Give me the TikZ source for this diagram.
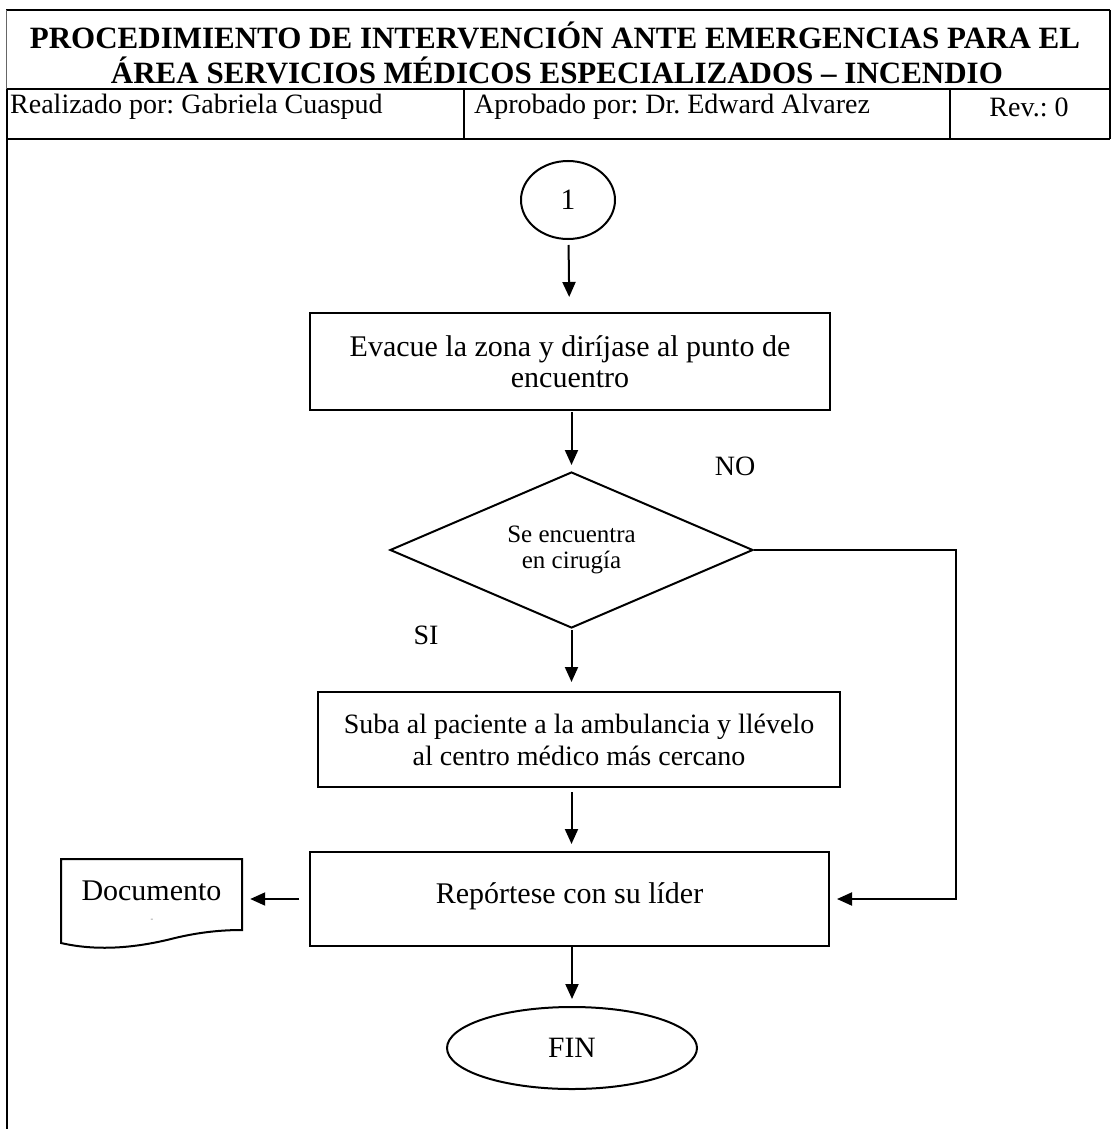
\documentclass[tikz,border=0pt]{standalone}
\usepackage{fontspec}
\setmainfont{Liberation Serif}
\usetikzlibrary{arrows.meta,shapes.geometric}
\frenchspacing
\begin{document}
\begin{tikzpicture}[x=1pt,y=-1pt,
  frame/.style={line width=2pt},
  arr/.style={line width=2pt,-{Triangle[length=15pt,width=13pt]}},
  stepbox/.style={draw,line width=2pt,rectangle,inner sep=0pt,align=center,
    font=\fontsize{30}{31}\selectfont},
  oval/.style={draw,line width=2pt,ellipse,inner sep=0pt,
    font=\fontsize{29.5}{31}\selectfont},
  lbl/.style={font=\fontsize{28}{30}\selectfont,inner sep=0pt},
  titletext/.style={font=\fontsize{31}{32}\selectfont\bfseries,inner sep=0pt}
]
\useasboundingbox (0,0) rectangle (1112,1129);

% header table
\draw[frame] (6,10) -- (1110,10);
\draw[line width=1.6pt] (6,89) -- (1110,89);
\draw[line width=1.6pt] (6,139) -- (1110,139);
\draw[line width=1pt,black!60] (6,10) -- (6,89);
\draw[frame] (7,89) -- (7,1129);
\draw[line width=1.2pt] (1110,10) -- (1110,139);
\draw[line width=1.2pt] (464,89) -- (464,139);
\draw[line width=1.2pt] (950,89) -- (950,139);

\node[titletext] (t1) at (555,35) {PROCEDIMIENTO DE INTERVENCIÓN ANTE EMERGENCIAS PARA EL};
\node[titletext] (t2) at (557,70) {ÁREA SERVICIOS MÉDICOS ESPECIALIZADOS – INCENDIO};

\node[lbl,anchor=west] (realiz) at (10,107) {Realizado por: Gabriela Cuaspud};
\node[lbl,anchor=west] (aprob) at (474,107) {Aprobado por: Dr. Edward Alvarez};
\node[lbl] (rev) at (1029,107) {Rev.: 0};

% flowchart
\node[oval,minimum width=94pt,minimum height=78pt] (c1) at (568,200) {1};
\node[stepbox,minimum width=520pt,minimum height=97pt] (evac) at (570,361.5)
  {Evacue la zona y diríjase al punto de\\encuentro};
\node[draw,line width=2pt,diamond,aspect=2.3,inner sep=0pt,
  minimum width=363pt,minimum height=156pt,align=center,
  font=\fontsize{25}{26}\selectfont] (dec) at (571.5,550) {Se encuentra\\en cirugía};
\node[stepbox,minimum width=522pt,minimum height=95pt,
  font=\fontsize{28}{32}\selectfont] (suba) at (579,739.5)
  {Suba al paciente a la ambulancia y llévelo\\al centro médico más cercano};
\node[stepbox,minimum width=519pt,minimum height=94pt] (rep) at (569.5,899)
  {\raisebox{12pt}{Repórtese con su líder}};
\node[oval,minimum width=250pt,minimum height=82pt] (fin) at (572,1048) {FIN};

% document symbol with wavy lower edge
\node[inner sep=0pt,minimum width=181pt,minimum height=71pt,
  font=\fontsize{30}{31}\selectfont] (doc) at (151.5,894.5)
  {\raisebox{7pt}{Documento}};
\draw[line width=2pt,line join=miter]
  (242,930) -- (242,859) -- (61,859) -- (61,943)
  .. controls (100,952) and (140,947) .. (175,938)
  .. controls (200,932) and (222,930) .. (242,930) -- cycle;
\node[inner sep=0pt,font=\fontsize{8}{8}\selectfont,text=black!55] (mark) at (152,920) {-};

% branch labels
\node[lbl] (no) at (735,466) {NO};
\node[lbl] (si) at (426,635) {SI};

% connectors
\draw[arr,shorten <=5pt,shorten >=15pt] (c1) -- (evac);
\draw[arr,shorten <=1pt,shorten >=6pt] (evac.south -| dec.north) -- (dec.north);
\draw[arr,shorten <=1pt,shorten >=9pt] (dec.south) -- (dec.south |- suba.north);
\draw[arr,shorten <=4pt,shorten >=7pt] (dec.south |- suba.south) -- (dec.south |- rep.north);
\draw[arr,shorten >=7pt] (rep.south -| fin.north) -- (fin.north);
\draw[arr,shorten <=10pt,shorten >=8pt] (rep.west) -- (rep.west -| doc.east);
\draw[arr,shorten >=7pt] (dec.east) -- ++(202,0) |- (rep.east);
\end{tikzpicture}
\end{document}
